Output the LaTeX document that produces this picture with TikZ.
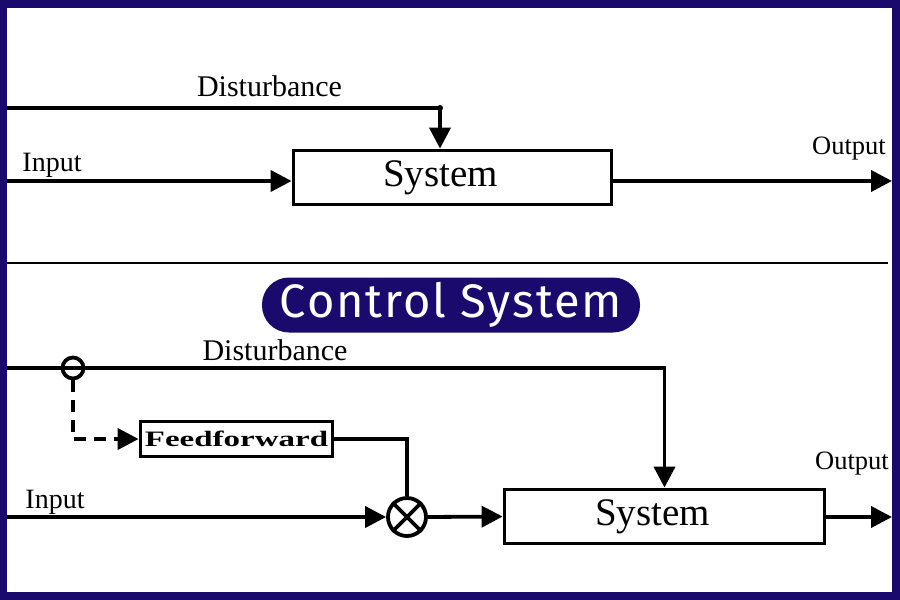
\documentclass[tikz,border=0pt]{standalone}
\usepackage{fontspec}
\setmainfont{Liberation Serif}
\newfontfamily\titlefont[LetterSpace=4]{Fira Sans}
\usetikzlibrary{arrows.meta,positioning}
\definecolor{navy}{RGB}{27,10,110}
\tikzset{
  block/.style={draw, line width=3.8pt, inner sep=0pt, font=\fontsize{39}{40}\selectfont},
  wire/.style={line width=3.8pt},
  lbl/.style={inner sep=0pt, anchor=base},
}
\begin{document}
\begin{tikzpicture}[x=1pt, y=-1pt, >={Triangle[length=21pt,width=21pt]}]
    % Rahmen
    \fill[navy] (0,0) rectangle (900,600);
    \fill[white] (7,8) rectangle (892,592);
    \useasboundingbox (0,0) rectangle (900,600);

    % oben: offener Kreis
    \node[block, minimum width=318pt, minimum height=54pt] (sys1) at (452.5,177.5) {\raisebox{-1.5pt}{System}\kern24pt};
    \node[lbl, font=\fontsize{30}{30}\selectfont] (dist1) at (269.5,96) {Disturbance};
    \node[lbl, font=\fontsize{28}{28}\selectfont] (in1) at (52,171) {Input};
    \node[lbl, font=\fontsize{26.5}{27}\selectfont] (out1) at (849,154) {Output};
    \coordinate (d1start) at (7,108);
    \coordinate (d1corner) at (440,108);
    \coordinate (i1start) at (7,181);
    \coordinate (o1end) at (892,181);
    \draw[wire] (d1start) -- (d1corner);
    \draw[wire, ->] (d1corner) -- (d1corner |- sys1.north);
    \fill (d1corner) circle (3pt);
    \draw[wire, ->] (i1start) -- (i1start -| sys1.west);
    \draw[wire, ->] (sys1.east |- o1end) -- (o1end);

    % Trennlinie und Titel
    \coordinate (sepl) at (7,263);
    \coordinate (sepr) at (888,263);
    \draw[line width=2pt] (sepl) -- (sepr);
    \node[fill=navy, text=white, rounded corners=27pt, minimum width=378pt, minimum height=55pt, inner sep=0pt,
          font=\titlefont\fontsize{47}{47}\selectfont] (title) at (451,305) {Control System};

    % unten: mit Vorsteuerung
    \node[block, minimum width=320pt, minimum height=54pt] (sys2) at (664.5,516.5) {\raisebox{-1.5pt}{System}\kern24pt};
    \node[block, minimum width=192pt, minimum height=35pt, font=\fontsize{22}{22}\selectfont\bfseries] (ff) at (236.5,439) {\scalebox{1.5}[1]{Feedforward}};
    \node[circle, draw, line width=3.8pt, minimum size=38pt, inner sep=0pt] (sum) at (407,517) {};
    \node[circle, draw, line width=3.8pt, minimum size=21pt, inner sep=0pt] (pick) at (73,368) {};
    \node[lbl, font=\fontsize{30}{30}\selectfont] (dist2) at (275,360) {Disturbance};
    \node[lbl, font=\fontsize{28}{28}\selectfont] (in2) at (55,508) {Input};
    \node[lbl, font=\fontsize{26.5}{27}\selectfont] (out2) at (852,469) {Output};
    \coordinate (d2start) at (7,368);
    \coordinate (i2start) at (7,517);
    \coordinate (o2end) at (892,517);
    \draw[wire, ->] (d2start) -| (sys2.north);
    \draw[wire, dash pattern=on 12pt off 8pt, ->] (pick.south) |- (ff.west);
    \draw[wire] (ff.east) -| (sum.north);
    \draw[wire] (sum.north west) -- (sum.south east) (sum.north east) -- (sum.south west);
    \draw[wire, ->] (i2start) -- (sum.west);
    \draw[wire, ->] (sum.east) -- (sys2.west);
    \draw[wire, ->] (sys2.east |- o2end) -- (o2end);
\end{tikzpicture}
\end{document}
